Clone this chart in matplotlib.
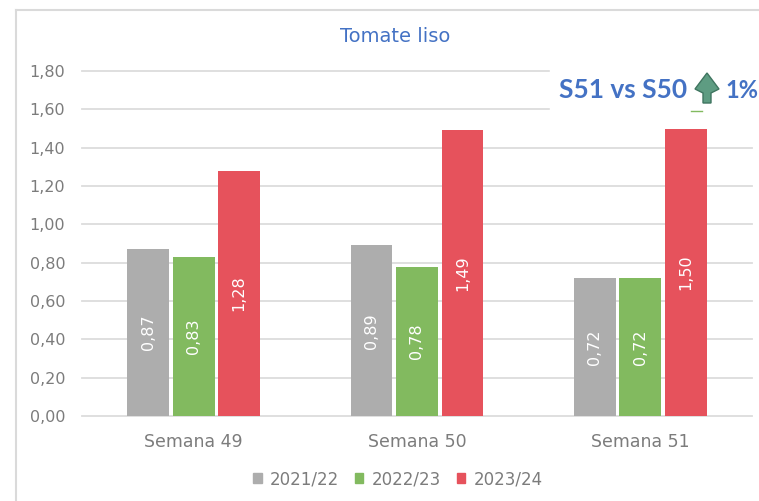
import matplotlib
matplotlib.use('Agg')
import matplotlib.pyplot as plt
import numpy as np
from matplotlib.patches import Rectangle, Polygon
from matplotlib.lines import Line2D

W, H = 759, 501

weeks = ['Semana 49', 'Semana 50', 'Semana 51']
seasons = ['2021/22', '2022/23', '2023/24']
v2122 = [0.87, 0.89, 0.72]
v2223 = [0.83, 0.78, 0.72]
v2324 = [1.28, 1.49, 1.50]
colors = ['#ADADAD', '#82BA5F', '#E6525C']
yticks = [0, 0.2, 0.4, 0.6, 0.8, 1.0, 1.2, 1.4, 1.6, 1.8]

plt.rcParams['font.family'] = ['DejaVu Sans']

fig = plt.figure(figsize=(W / 100, H / 100), dpi=100)

def fx(px):
    return px / W

def fy(py):
    return 1 - py / H

ax = fig.add_axes([fx(82), fy(416), (752 - 82) / W, (416 - 71) / H])
x = np.arange(3)
step = 0.204
for i, vals in enumerate([v2122, v2223, v2324]):
    bars = ax.bar(x + (i - 1) * step, vals, 0.187, color=colors[i], zorder=3)
    for b, v in zip(bars, vals):
        ax.text(b.get_x() + b.get_width() / 2, v / 2, f'{v:.2f}'.replace('.', ','),
                rotation=90, ha='center', va='center', color='white', fontsize=11.5, zorder=4)

ax.set_xlim(-0.5, 2.5)
ax.set_ylim(0, 1.8)
ax.set_yticks(yticks)
ax.set_yticklabels([f'{t:.2f}'.replace('.', ',') for t in yticks], color='#7C7C7C', fontsize=11.5)
ax.set_xticks(x)
ax.set_xticklabels(weeks, color='#7C7C7C', fontsize=12.5)
ax.tick_params(length=0)
ax.tick_params(axis='y', pad=12)
ax.tick_params(axis='x', pad=12.5)
ax.grid(axis='y', color='#DCDCDC', linewidth=1.3, zorder=0, clip_on=False)
ax.set_axisbelow(True)
for s in ax.spines.values():
    s.set_visible(False)

# outer frame of the chart
fig.add_artist(Line2D([fx(16), fx(16)], [fy(10), 0], color='#DADADA', linewidth=1.5))
fig.add_artist(Line2D([fx(16), 1], [fy(10), fy(10)], color='#DADADA', linewidth=1.5))

fig.text(fx(395), fy(36), 'Tomate liso', color='#4472C4', fontsize=14, ha='center', va='center')

# pasted label over the gridlines
fig.add_artist(Rectangle((fx(550), fy(111)), 1 - fx(550), 43 / H, color='white', zorder=5,
                         transform=fig.transFigure))
fig.text(fx(559), fy(90), 'S51 vs S50', color='#4472C4', fontsize=19, fontweight='bold',
         family='Lato', ha='left', va='center', zorder=6)
arrow = [(707, 73), (719, 89), (711, 93), (711, 103), (703, 103), (703, 93), (695, 89)]
fig.add_artist(Polygon([(fx(a), fy(b)) for a, b in arrow], closed=True, facecolor='#5E9C82',
                       edgecolor='#3F7560', linewidth=1, zorder=6, transform=fig.transFigure))
fig.text(fx(725), fy(90), '1%', color='#4472C4', fontsize=17, fontweight='bold',
         family='Lato', ha='left', va='center', zorder=6)
fig.add_artist(Line2D([fx(691), fx(702)], [fy(111), fy(111)], color='#82BA5F', linewidth=1, zorder=6))

handles = [Rectangle((0, 0), 1, 1, color=c) for c in colors]
fig.legend(handles, seasons, loc='center', bbox_to_anchor=(fx(398), fy(479)), ncol=3, frameon=False,
           fontsize=12, labelcolor='#7C7C7C', handlelength=0.5, handleheight=0.5,
           handletextpad=0.5, columnspacing=0.95)

fig.savefig('out.png', dpi=100)
